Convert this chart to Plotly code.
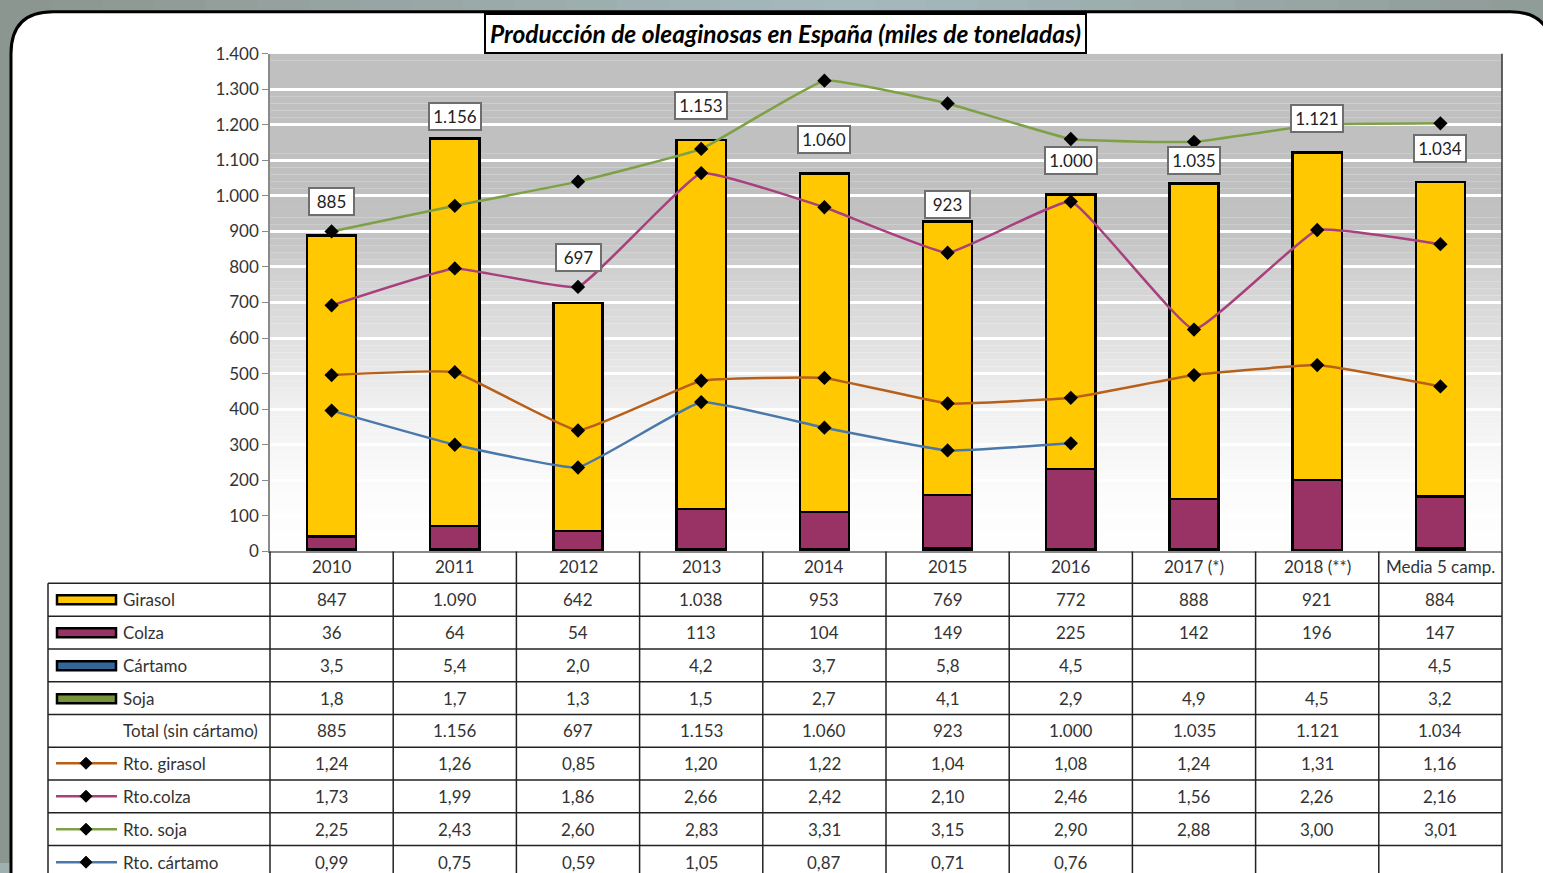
import plotly.graph_objects as go

W, H = 1543, 873

# ---------------- data ----------------
years = ["2010", "2011", "2012", "2013", "2014", "2015", "2016", "2017 (*)", "2018 (**)", "Media 5 camp."]
girasol = [847, 1090, 642, 1038, 953, 769, 772, 888, 921, 884]
colza = [36, 64, 54, 113, 104, 149, 225, 142, 196, 147]
cartamo = [3.5, 5.4, 2.0, 4.2, 3.7, 5.8, 4.5, None, None, 4.5]
soja = [1.8, 1.7, 1.3, 1.5, 2.7, 4.1, 2.9, 4.9, 4.5, 3.2]
total = [885, 1156, 697, 1153, 1060, 923, 1000, 1035, 1121, 1034]
rto_girasol = [1.24, 1.26, 0.85, 1.20, 1.22, 1.04, 1.08, 1.24, 1.31, 1.16]
rto_colza = [1.73, 1.99, 1.86, 2.66, 2.42, 2.10, 2.46, 1.56, 2.26, 2.16]
rto_soja = [2.25, 2.43, 2.60, 2.83, 3.31, 3.15, 2.90, 2.88, 3.00, 3.01]
rto_cartamo = [0.99, 0.75, 0.59, 1.05, 0.87, 0.71, 0.76, None, None, None]

y_ticks = [0, 100, 200, 300, 400, 500, 600, 700, 800, 900, 1000, 1100, 1200, 1300, 1400]
title = "Producción de oleaginosas en España (miles de toneladas)"

# ---------------- style ----------------
FONT = "Lato"
C_GIR = "#FFC800"
C_COL = "#993366"
C_CAR = "#336699"
C_SOJ = "#77933C"
L_GIR = "#B8601A"
L_COL = "#A8407E"
L_SOJ = "#7EA046"
L_CAR = "#4A78AA"
label_shift = [35, 24, 46, 36, 35, 19, 35, 23, 34, 35]
# background shading stops (axis level, grey value)
bg_stops = [(0, 254), (100, 253), (200, 250), (300, 246), (400, 240), (500, 232), (600, 224), (700, 216),
            (800, 207), (900, 194), (1000, 192), (1400, 192)]

PL, PR, PT, PB = 270, 1502, 53, 551
# vertical placement of the figure on the photographed page
OFF, HV = 10.3, 852.5


def X(px):
    return px / W


def Y(py):
    return 1 - (py - OFF) / HV


def fmt(v, dec):
    if v is None:
        return ""
    s = f"{v:,.{dec}f}"
    return s.replace(",", "X").replace(".", ",").replace("X", ".")


def shade(val):
    for (a, ga), (b, gb) in zip(bg_stops[:-1], bg_stops[1:]):
        if a <= val <= b:
            return int(round(ga + (gb - ga) * (val - a) / (b - a)))
    return bg_stops[-1][1]


fig = go.Figure()

bar_kw = dict(width=0.4, marker_line=dict(color="black", width=2.5), hoverinfo="skip")
fig.add_trace(go.Bar(x=years, y=soja, name="Soja", marker_color=C_SOJ, **bar_kw))
fig.add_trace(go.Bar(x=years, y=cartamo, name="Cártamo", marker_color=C_CAR, **bar_kw))
fig.add_trace(go.Bar(x=years, y=colza, name="Colza", marker_color=C_COL, **bar_kw))
fig.add_trace(go.Bar(x=years, y=girasol, name="Girasol", marker_color=C_GIR, **bar_kw))

line_kw = dict(mode="lines+markers", yaxis="y2", marker=dict(symbol="diamond", size=11, color="black"),
               hoverinfo="skip")
for vals, col, nm in [(rto_cartamo, L_CAR, "Rto. cártamo"), (rto_girasol, L_GIR, "Rto. girasol"),
                      (rto_colza, L_COL, "Rto.colza"), (rto_soja, L_SOJ, "Rto. soja")]:
    fig.add_trace(go.Scatter(x=years, y=vals, name=nm, line=dict(color=col, width=2.5, shape="spline", smoothing=0.3),
                             **line_kw))

shapes = []
annotations = []

# outer background gradient strips
n = 30
for i in range(n):
    t = i / (n - 1)
    k = 1 - abs(t - 0.55) / 0.55
    r = int(140 + (166 - 140) * k)
    g = int(150 + (186 - 150) * k)
    b = int(144 + (190 - 144) * k)
    shapes.append(dict(type="rect", xref="paper", yref="paper", x0=i / n, x1=(i + 1) / n + 0.002, y0=0, y1=1.05,
                       fillcolor=f"rgb({r},{g},{b})", line=dict(width=0), layer="below"))

# white rounded panel
x0, y0, x1, y1, rr = 11, 11, 1552, 960, 42
path = (f"M {X(x0)},{Y(y0 + rr)} Q {X(x0)},{Y(y0)} {X(x0 + rr)},{Y(y0)} "
        f"L {X(x1 - rr)},{Y(y0)} Q {X(x1)},{Y(y0)} {X(x1)},{Y(y0 + rr)} "
        f"L {X(x1)},{Y(y1)} L {X(x0)},{Y(y1)} Z")
shapes.append(dict(type="path", xref="paper", yref="paper", path=path, fillcolor="white",
                   line=dict(color="black", width=3), layer="below"))

# plot-area gradient background
step = 20
v = 0
while v < 1400:
    gv = shade(v + step / 2)
    shapes.append(dict(type="rect", xref="x domain", yref="y", x0=0, x1=1, y0=v, y1=v + step,
                       fillcolor=f"rgb({gv},{gv},{gv})", line=dict(width=0), layer="below"))
    v += step

# right border of plot area
shapes.append(dict(type="line", xref="paper", yref="paper", x0=X(PR), x1=X(PR), y0=Y(PB), y1=Y(PT),
                   line=dict(color="#333333", width=1.5)))

# table
colw = (PR - PL) / 10
row_lines = [583 + 32.8 * k for k in range(9)]
LC = "#222222"
for k, ry in enumerate(row_lines):
    shapes.append(dict(type="line", xref="paper", yref="paper", x0=X(48), x1=X(PR), y0=Y(ry), y1=Y(ry),
                       line=dict(color=LC, width=1.5)))
for j in range(11):
    xx = PL + colw * j
    shapes.append(dict(type="line", xref="paper", yref="paper", x0=X(xx), x1=X(xx), y0=Y(PB), y1=Y(H + 30),
                       line=dict(color=LC, width=1.5)))
shapes.append(dict(type="line", xref="paper", yref="paper", x0=X(48), x1=X(48), y0=Y(583), y1=Y(H + 30),
                   line=dict(color=LC, width=1.5)))

row_centers = [599, 632, 665, 698, 730, 763, 796, 829, 862]
row_names = ["Girasol", "Colza", "Cártamo", "Soja", "Total (sin cártamo)", "Rto. girasol", "Rto.colza",
             "Rto. soja", "Rto. cártamo"]
row_vals = [(girasol, 0), (colza, 0), (cartamo, 1), (soja, 1), (total, 0), (rto_girasol, 2), (rto_colza, 2),
            (rto_soja, 2), (rto_cartamo, 2)]
key_cols = [("bar", C_GIR), ("bar", C_COL), ("bar", C_CAR), ("bar", C_SOJ), (None, None), ("line", L_GIR),
            ("line", L_COL), ("line", L_SOJ), ("line", L_CAR)]
tfont = dict(family=FONT, size=17, color="#333333")

for j, yr in enumerate(years):
    annotations.append(dict(xref="paper", yref="paper", x=X(PL + colw * (j + 0.5)), y=Y(566), text=yr,
                            showarrow=False, font=tfont, xanchor="center", yanchor="middle"))

for i, (nm, (vals, dec), (kt, kc)) in enumerate(zip(row_names, row_vals, key_cols)):
    cy = row_centers[i]
    annotations.append(dict(xref="paper", yref="paper", x=X(121), y=Y(cy), text=nm, showarrow=False,
                            font=tfont, xanchor="left", yanchor="middle"))
    for j, val in enumerate(vals):
        annotations.append(dict(xref="paper", yref="paper", x=X(PL + colw * (j + 0.5)), y=Y(cy),
                                text=fmt(val, dec), showarrow=False, font=tfont, xanchor="center",
                                yanchor="middle"))
    if kt == "bar":
        shapes.append(dict(type="rect", xref="paper", yref="paper", x0=X(57), x1=X(116), y0=Y(cy - 4),
                           y1=Y(cy + 5), fillcolor=kc, line=dict(color="black", width=2.5)))
    elif kt == "line":
        shapes.append(dict(type="line", xref="paper", yref="paper", x0=X(56), x1=X(117), y0=Y(cy), y1=Y(cy),
                           line=dict(color=kc, width=2.5)))
        d = 6
        dpath = (f"M {X(86 - d)},{Y(cy)} L {X(86)},{Y(cy - d)} L {X(86 + d)},{Y(cy)} "
                 f"L {X(86)},{Y(cy + d)} Z")
        shapes.append(dict(type="path", xref="paper", yref="paper", path=dpath, fillcolor="black",
                           line=dict(color="black", width=1)))

# total labels above bars (x given as category index)
for j, tv in enumerate(total):
    txt = fmt(tv, 0)
    annotations.append(dict(x=j, y=tv, xref="x", yref="y", text=txt, showarrow=False, yshift=label_shift[j],
                            font=dict(family=FONT, size=17, color="#222222"), bgcolor="white",
                            bordercolor="#6e6e6e", borderwidth=2, borderpad=2,
                            width=39 if len(txt) <= 3 else 46, height=21))

# title
annotations.append(dict(xref="paper", yref="paper", x=X(785), y=Y(33), text=f"<b><i>{title}</i></b>",
                        showarrow=False, font=dict(family=FONT, size=24.5, color="black"), bgcolor="white",
                        bordercolor="black", borderwidth=2, borderpad=4, xanchor="center", yanchor="middle"))

fig.update_layout(
    width=W, height=H, margin=dict(l=0, r=0, t=0, b=0),
    paper_bgcolor="#9fb0b0", plot_bgcolor="rgba(0,0,0,0)",
    barmode="stack", showlegend=False, separators=",.",
    font=dict(family=FONT),
    xaxis=dict(type="category", domain=[X(PL), X(PR)], range=[-0.5, 9.5], showticklabels=False, showgrid=False,
               showline=True, linecolor="#8a8a8a", linewidth=1.5, ticks="", zeroline=False),
    yaxis=dict(domain=[Y(PB), Y(PT)], range=[0, 1400], tickvals=y_ticks, tickformat=",d",
               showgrid=True, gridcolor="white", gridwidth=3, zeroline=False,
               showline=True, linecolor="#8a8a8a", linewidth=1.5, ticks="outside", ticklen=6,
               tickcolor="#8a8a8a", tickfont=dict(family=FONT, size=17, color="#333333")),
    yaxis2=dict(overlaying="y", range=[0, 3.5], visible=False),
    shapes=shapes, annotations=annotations,
)

post = ("document.documentElement.style.margin='0';document.body.style.margin='0';"
        "document.body.style.padding='0';document.body.style.overflow='hidden';"
        "var d=document.getElementById('{plot_id}');d.style.position='fixed';"
        "d.style.top='0px';d.style.left='0px';")
fig.write_html("out.html", config={"displayModeBar": False}, post_script=post)
